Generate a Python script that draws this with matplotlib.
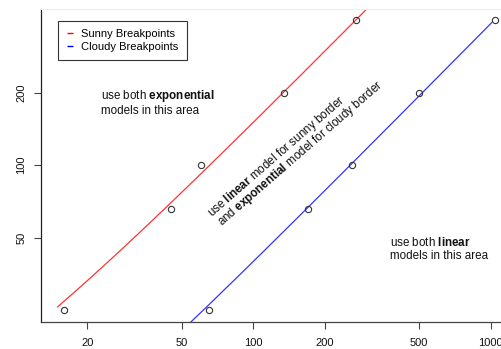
import numpy as np
import matplotlib
matplotlib.use("Agg")
import matplotlib.pyplot as plt
from matplotlib.lines import Line2D
from matplotlib.ticker import FixedLocator, NullLocator, FixedFormatter

plt.rcParams['font.family'] = ['Liberation Sans', 'DejaVu Sans']
plt.rcParams['mathtext.fontset'] = 'custom'
plt.rcParams['mathtext.rm'] = 'Liberation Sans'
plt.rcParams['mathtext.bf'] = 'Liberation Sans:bold'

# data
sunny_x = [16, 45, 60, 135, 270]
sunny_y = [25, 66, 100, 200, 400]
cloudy_x = [65, 170, 260, 500, 1040]
cloudy_y = [25, 66, 100, 200, 400]
x_ticks = [20, 50, 100, 200, 500, 1000]
y_ticks = [50, 100, 200]
legend_labels = ["Sunny Breakpoints", "Cloudy Breakpoints"]

W, H = 502, 349
fig = plt.figure(figsize=(W / 100, H / 100), dpi=100)
left_px, right_px, top_px, bottom_px = 40.7, 502, 9, 321.7
ax = fig.add_axes([left_px / W, 1 - bottom_px / H, (right_px - left_px) / W, (bottom_px - top_px) / H])
ax.set_xscale('log')
ax.set_yscale('log')
ax.set_xlim(10 ** 1.1047, 10 ** 3.0476)
ax.set_ylim(10 ** 1.3503, 10 ** 2.6484)

# linear fits drawn as curves on log axes
xs = np.geomspace(15, 1010, 300)
bs, as_ = np.polyfit(sunny_x, sunny_y, 1)
bc, ac = np.polyfit(cloudy_x, cloudy_y, 1)
ax.plot(xs, as_ + bs * xs, color='#ff3333', lw=0.9)
ax.plot(xs, ac + bc * xs, color='#3333ff', lw=0.9)

ax.plot(sunny_x, sunny_y, 'o', mfc='none', mec='#333333', ms=4.5, mew=0.8, clip_on=False)
ax.plot(cloudy_x, cloudy_y, 'o', mfc='none', mec='#333333', ms=4.5, mew=0.8, clip_on=False)

ax.spines['right'].set_visible(False)
ax.spines['top'].set_color('#eeeeee')
ax.spines['top'].set_linewidth(0.8)
ax.spines['left'].set_color('#222222')
ax.spines['bottom'].set_color('#444444')
ax.spines['left'].set_linewidth(0.9)
ax.spines['bottom'].set_linewidth(0.9)

ax.xaxis.set_major_locator(FixedLocator(x_ticks))
ax.xaxis.set_major_formatter(FixedFormatter([str(v) for v in x_ticks]))
ax.xaxis.set_minor_locator(NullLocator())
ax.yaxis.set_major_locator(FixedLocator(y_ticks))
ax.yaxis.set_major_formatter(FixedFormatter([str(v) for v in y_ticks]))
ax.yaxis.set_minor_locator(NullLocator())
ax.tick_params(axis='both', length=5, width=0.8, color='#444444', labelsize=8, labelcolor='#111111')
ax.tick_params(axis='x', pad=6.5)
ax.tick_params(axis='y', pad=5.5)
for lab in ax.get_yticklabels():
    lab.set_rotation(90)
    lab.set_va('center')

fs = 8.4
ax.text(22.8, 209, "use both $\\mathbf{exponential}$\nmodels in this area", fontsize=fs,
        ha='left', va='top', color='#111111', linespacing=1.15)
ax.text(377, 51, "use both $\\mathbf{linear}$\nmodels in this area", fontsize=fs,
        ha='left', va='top', color='#111111', linespacing=1.15)
ax.text(67, 61, "use $\\mathbf{linear}$ model for sunny border", fontsize=fs, rotation=41,
        rotation_mode='anchor', ha='left', va='baseline', color='#111111')
ax.text(73.7, 55.6, "and $\\mathbf{exponential}$ model for cloudy border", fontsize=fs, rotation=41,
        rotation_mode='anchor', ha='left', va='baseline', color='#111111')

handles = [Line2D([], [], color='red', marker='_', ls='none', ms=4, mew=1),
           Line2D([], [], color='blue', marker='_', ls='none', ms=4, mew=1)]
leg = ax.legend(handles, legend_labels, loc='upper left',
                bbox_to_anchor=(57.7 / W, 1 - 20.7 / H), bbox_transform=fig.transFigure,
                borderaxespad=0, fancybox=False, framealpha=1, edgecolor='#333333',
                fontsize=8, handlelength=0.8, handletextpad=0.6, labelspacing=0.3,
                borderpad=0.74)
leg.get_frame().set_linewidth(0.8)

fig.savefig('out.png', dpi=100)
